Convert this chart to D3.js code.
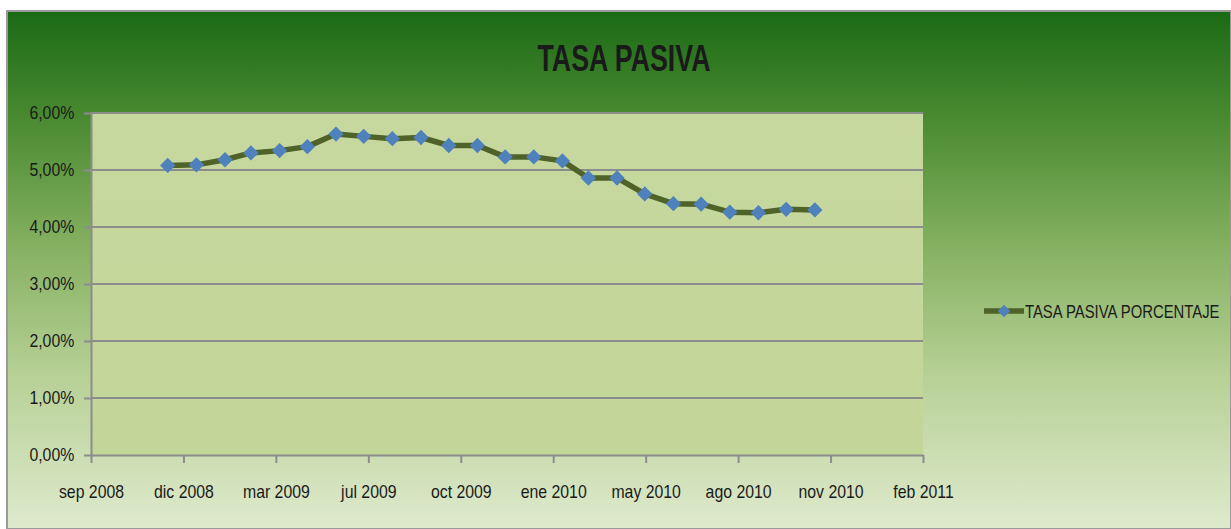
<!DOCTYPE html>
<html>
<head>
<meta charset="utf-8">
<script src="https://cdn.jsdelivr.net/npm/d3@7"></script>
<style>
  html, body { margin:0; padding:0; background:#fff; }
  text { font-family: "Liberation Sans", Arial, sans-serif; fill:#1a1a1a; }
</style>
</head>
<body>
<div id="chart"></div>
<script>
// TASA PASIVA — monthly series, date axis with Excel-style 100 day steps
const months = ["2008-12-01","2009-01-01","2009-02-01","2009-03-01","2009-04-01","2009-05-01",
                "2009-06-01","2009-07-01","2009-08-01","2009-09-01","2009-10-01","2009-11-01",
                "2009-12-01","2010-01-01","2010-02-01","2010-03-01","2010-04-01","2010-05-01",
                "2010-06-01","2010-07-01","2010-08-01","2010-09-01","2010-10-01","2010-11-01"];
const tasa   = [5.08,5.09,5.18,5.30,5.34,5.41,5.63,5.59,5.55,5.57,5.43,5.43,
                5.23,5.23,5.16,4.86,4.86,4.58,4.41,4.40,4.26,4.25,4.31,4.30];
const tickDates  = ["2008-09-09","2008-12-18","2009-03-28","2009-07-06","2009-10-14",
                    "2010-01-22","2010-05-02","2010-08-10","2010-11-18","2011-02-26"];
const tickLabels = ["sep 2008","dic 2008","mar 2009","jul 2009","oct 2009",
                    "ene 2010","may 2010","ago 2010","nov 2010","feb 2011"];
const yTicks = [0,1,2,3,4,5,6];
const seriesName = "TASA PASIVA PORCENTAJE";

const totalW=1231, totalH=529;
const plot = { left:91, right:923, top:113, bottom:455 };
const parse = d3.utcParse("%Y-%m-%d");
const data = months.map((m,i)=>({date:parse(m), value:tasa[i]}));
const ticks = tickDates.map(parse);

const svg = d3.select("#chart").append("svg").attr("width",totalW).attr("height",totalH);
const defs = svg.append("defs");
const bg = defs.append("linearGradient").attr("id","bg").attr("x1",0).attr("y1",0).attr("x2",0).attr("y2",1);
[[0,"#1a6a15"],[0.2,"#48892f"],[0.45,"#84b060"],[0.7,"#b6d095"],[1,"#dfeacd"]]
    .forEach(([o,c])=>bg.append("stop").attr("offset",o).attr("stop-color",c));
const pg = defs.append("linearGradient").attr("id","pg").attr("x1",0).attr("y1",0).attr("x2",0).attr("y2",1);
[[0,"#c6d89e"],[1,"#c3d699"]].forEach(([o,c])=>pg.append("stop").attr("offset",o).attr("stop-color",c));

svg.append("rect").attr("x",7).attr("y",11).attr("width",totalW-7).attr("height",totalH-11)
    .attr("fill","url(#bg)").attr("stroke","#9a9a9a").attr("stroke-width",2);

const x = d3.scaleUtc().domain([ticks[0], ticks[ticks.length-1]]).range([plot.left, plot.right]);
const y = d3.scaleLinear().domain([0,6]).range([plot.bottom, plot.top]);

svg.append("rect").attr("x",plot.left).attr("y",plot.top)
    .attr("width",plot.right-plot.left).attr("height",plot.bottom-plot.top).attr("fill","url(#pg)");

// gridlines
svg.append("g").selectAll("line").data(yTicks.slice(1)).enter().append("line")
    .attr("x1",plot.left).attr("x2",plot.right).attr("y1",d=>y(d)).attr("y2",d=>y(d))
    .attr("stroke","#8c8c8c").attr("stroke-width",2);

// axes
const xAxis = svg.append("g").attr("transform",`translate(0,${plot.bottom})`)
    .call(d3.axisBottom(x).tickValues(ticks).tickSize(8).tickSizeOuter(0).tickPadding(22)
        .tickFormat((d,i)=>tickLabels[i]));
const yAxis = svg.append("g").attr("transform",`translate(${plot.left},0)`)
    .call(d3.axisLeft(y).tickValues(yTicks).tickSize(7).tickSizeOuter(0).tickPadding(8)
        .tickFormat(d=>d3.format(".2f")(d).replace(".",",")+"%"));
[xAxis,yAxis].forEach(a=>{
    a.select(".domain").attr("stroke","#8c8c8c").attr("stroke-width",2);
    a.selectAll(".tick line").attr("stroke","#8c8c8c").attr("stroke-width",2);
    a.selectAll(".tick text").style("font-size","18px").attr("fill","#1a1a1a");
});
xAxis.selectAll(".tick text").attr("transform","scale(0.88,1)");
yAxis.selectAll(".tick text").attr("x",-19).attr("transform","scale(0.88,1)");

// series
svg.append("path").datum(data).attr("fill","none").attr("stroke","#4f6228")
    .attr("stroke-width",5.5).attr("stroke-linejoin","round")
    .attr("d", d3.line().x(d=>x(d.date)).y(d=>y(d.value)));
const diamond = d3.symbol().type(d3.symbolDiamond2).size(150);
svg.append("g").selectAll("path").data(data).enter().append("path")
    .attr("d",diamond).attr("fill","#4f81bd")
    .attr("transform",d=>`translate(${x(d.date)},${y(d.value)})`);

// title
svg.append("text").attr("x",624).attr("y",71).attr("text-anchor","middle")
    .style("font-size","37px").style("font-weight","bold")
    .attr("textLength",173).attr("lengthAdjust","spacingAndGlyphs").text("TASA PASIVA");

// legend
const lg = svg.append("g").attr("transform","translate(984,311)");
lg.append("line").attr("x1",0).attr("x2",40).attr("stroke","#4f6228").attr("stroke-width",5.5);
lg.append("path").attr("d",d3.symbol().type(d3.symbolDiamond2).size(100)).attr("fill","#4f81bd")
    .attr("transform","translate(20,0)");
lg.append("text").attr("transform","translate(41,7) scale(0.825,1)").style("font-size","18px")
    .text(seriesName);
</script>
</body>
</html>
